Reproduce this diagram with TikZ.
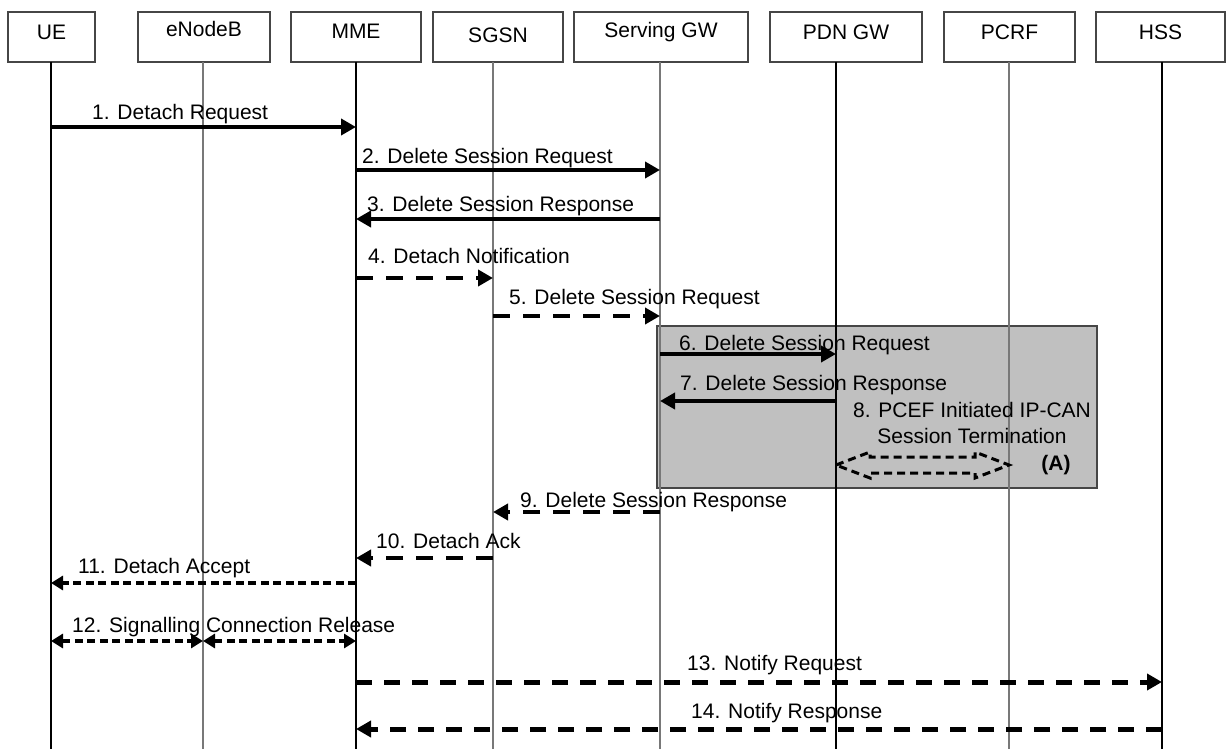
\documentclass[tikz,border=0pt]{standalone}
\usepackage{fontspec}
\setmainfont{Liberation Sans}
\usetikzlibrary{arrows.meta}
\definecolor{lifegray}{RGB}{120,120,120}
\definecolor{boxgray}{RGB}{70,70,70}
\definecolor{shadegray}{RGB}{192,192,192}

\tikzset{
  entity/.style={draw=boxgray,line width=1.2pt},
  lifeline/.style={line width=1.2pt},
  msgtext/.style={anchor=base west,inner sep=0pt},
  plainmsg/.style={line width=3.8pt,-{Triangle[length=15pt,width=16pt]}},
  dashmsg/.style={line width=4.6pt,dash pattern=on 17pt off 13pt,-{Triangle[length=15pt,width=16pt]}},
  longmsg/.style={line width=5pt,dash pattern=on 16pt off 12pt,-{Triangle[length=15pt,width=16pt]}},
  finemsg/.style={line width=3.5pt,dash pattern=on 8pt off 4.5pt,-{Triangle[length=12pt,width=14pt]}},
  finepair/.style={finemsg,{Triangle[length=12pt,width=14pt]}-{Triangle[length=12pt,width=14pt]}},
  hollowpair/.style={line width=3pt,dash pattern=on 8pt off 5pt,line join=miter}
}

\begin{document}
\begin{tikzpicture}[x=1pt,y=-1pt,font=\fontsize{21}{26}\selectfont]
  \useasboundingbox (0,0) rectangle (1226,749);
  % Area (A)
  \fill[shadegray] (657,326) rectangle (1097,488);
  \draw[boxgray,line width=1.2pt] (657,326) rectangle (1097,488);
  % Entities and lifelines
  \foreach \id/\xa/\xb/\ty/\xl/\lc/\name in {ue/8/95/32/51/black/UE,
      enb/138/270/29/203/lifegray/eNodeB, mme/291/421/31/356/black/MME,
      sgsn/433/563/35/493/lifegray/SGSN, sgw/574/748/32/660/lifegray/Serving GW,
      pgw/770/922/32/836/black/PDN GW, pcrf/944/1075/32/1009/lifegray/PCRF,
      hss/1096/1225/32/1162/black/HSS} {
    \draw[entity] (\xa,12) rectangle (\xb,62);
    \node (\id) at ({(\xa+\xb)/2},\ty) {\name};
    \coordinate (\id-top) at (\xl,62);
    \coordinate (\id-bot) at (\xl,749);
    \draw[lifeline,\lc] (\id-top) -- (\id-bot);
  }
  % 1
  \draw[plainmsg] (ue-top |- 0,127) -- (mme-top |- 0,127);
  \node[msgtext] (m1) at (92,119.5) {1. Detach Request};
  % 2
  \draw[plainmsg] (mme-top |- 0,170) -- (sgw-top |- 0,170);
  \node[msgtext] (m2) at (362,164) {2. Delete Session Request};
  % 3
  \draw[plainmsg] (sgw-top |- 0,219) -- (mme-top |- 0,219);
  \node[msgtext] (m3) at (367,211.5) {3. Delete Session Response};
  % 4
  \draw[dashmsg] (mme-top |- 0,278) -- (sgsn-top |- 0,278);
  \node[msgtext] (m4) at (368,263.5) {4. Detach Notification};
  % 5
  \draw[dashmsg] (sgsn-top |- 0,316) -- (sgw-top |- 0,316);
  \node[msgtext] (m5) at (509,304.5) {5. Delete Session Request};
  % 6
  \draw[plainmsg] (sgw-top |- 0,354) -- (pgw-top |- 0,354);
  \node[msgtext] (m6) at (679,350.5) {6. Delete Session Request};
  % 7
  \draw[plainmsg] (pgw-top |- 0,401) -- (sgw-top |- 0,401);
  \node[msgtext] (m7) at (680,390.5) {7. Delete Session Response};
  % 8
  \node[align=center,inner sep=0pt] (m8) at (972,423) {8. PCEF Initiated IP-CAN\\Session Termination};
  \draw[hollowpair] (pgw-top |- 0,465) -- (870,452) -- (870,457) -- (975,457) -- (975,452)
    -- (pcrf-top |- 0,465) -- (975,478) -- (975,473) -- (870,473) -- (870,478) -- cycle;
  \node[font=\fontsize{21}{26}\selectfont\bfseries] (areaA) at (1056,465) {(A)};
  % 9
  \draw[dashmsg] (sgw-top |- 0,512) -- (sgsn-top |- 0,512);
  \node[msgtext] (m9) at (520,507.5) {9. Delete Session Response};
  % 10
  \draw[dashmsg] (sgsn-top |- 0,558) -- (mme-top |- 0,558);
  \node[msgtext] (m10) at (376,548.5) {10. Detach Ack};
  % 11
  \draw[finemsg] (mme-top |- 0,583) -- (ue-top |- 0,583);
  \node[msgtext] (m11) at (78,573.5) {11. Detach Accept};
  % 12
  \draw[finepair] (ue-top |- 0,641) -- (enb-top |- 0,641);
  \draw[finepair] (enb-top |- 0,641) -- (mme-top |- 0,641);
  \node[msgtext] (m12) at (72,632.5) {12. Signalling Connection Release};
  % 13
  \draw[longmsg] (mme-top |- 0,682) -- (hss-top |- 0,682);
  \node[msgtext] (m13) at (687,670.5) {13. Notify Request};
  % 14
  \draw[longmsg] (hss-top |- 0,729) -- (mme-top |- 0,729);
  \node[msgtext] (m14) at (691,718.5) {14. Notify Response};
\end{tikzpicture}
\end{document}
